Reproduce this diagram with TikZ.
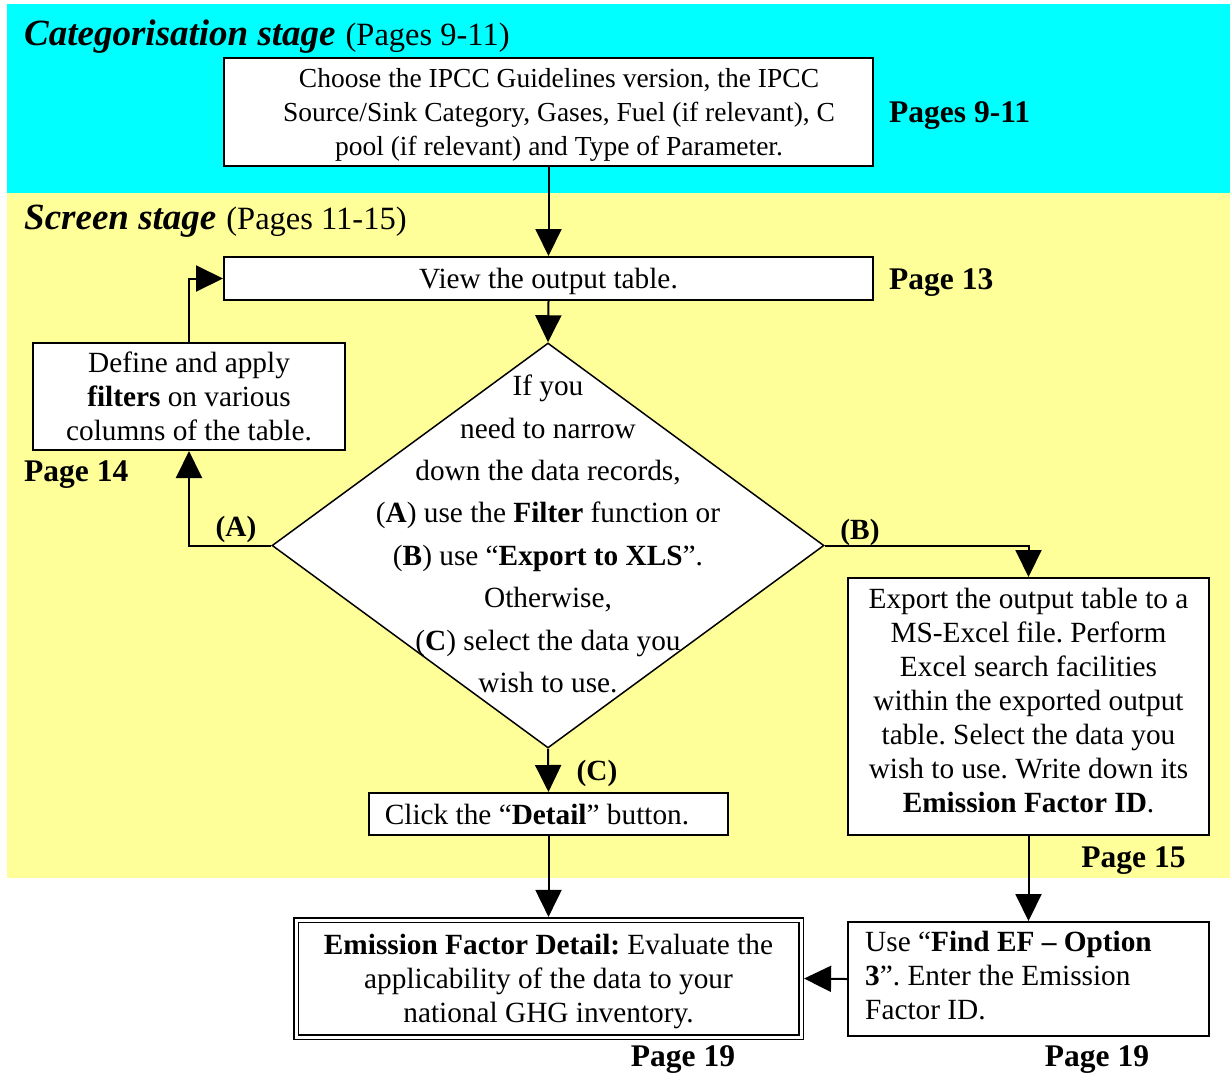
\documentclass[tikz,border=0pt]{standalone}
\usepackage{fontspec}
\setmainfont{Liberation Serif}
\usetikzlibrary{arrows.meta,shapes.geometric}
\definecolor{bgcyan}{RGB}{0,255,255}
\definecolor{bgyellow}{RGB}{255,255,153}
\frenchspacing
\begin{document}
\begin{tikzpicture}[x=1pt,y=-1pt,
  frame/.style={draw, line width=2pt, fill=white, inner sep=0pt},
  txt/.style={inner sep=0pt, align=center, font=\fontsize{29.3}{34}\selectfont},
  arr/.style={line width=2pt, -{Triangle[length=27pt,width=26pt]}},
  pg/.style={font=\fontsize{31.5}{34}\selectfont\bfseries, inner sep=0pt},
  lab/.style={font=\fontsize{29.3}{34}\selectfont\bfseries, inner sep=0pt}]
\useasboundingbox (0,0) rectangle (1230,1074);
\fill[white] (0,0) rectangle (1230,1074);
\fill[bgcyan] (7,4) rectangle (1230,193);
\fill[bgyellow] (7,193) rectangle (1230,878);

\node[anchor=base west, inner sep=0pt] (h1) at (24,45) {{\fontsize{37}{40}\selectfont\bfseries\itshape Categorisation stage}\hspace{10pt}{\fontsize{32.5}{34}\selectfont(Pages 9-11)}};
\node[anchor=base west, inner sep=0pt] (h2) at (24,229) {{\fontsize{37}{40}\selectfont\bfseries\itshape Screen stage}\hspace{10pt}{\fontsize{32.5}{34}\selectfont(Pages 11-15)}};

% boxes
\node[frame, minimum width=649pt, minimum height=108pt] (top) at (548.5,112) {};
\node[txt, font=\fontsize{27.5}{34}\selectfont] (toptext) at (559,115) {Choose the IPCC Guidelines version, the IPCC\\Source/Sink Category, Gases, Fuel (if relevant), C\\pool (if relevant) and Type of Parameter.};
\node[frame, minimum width=649pt, minimum height=43pt] (view) at (548.5,278.5) {};
\node[txt] (viewtext) at (548.5,281.5) {View the output table.};
\node[diamond, draw, line width=1.5pt, fill=white, minimum width=552pt, minimum height=405pt, inner sep=0pt] (dia) at (548,545.5) {};
\node[txt, font=\fontsize{29.3}{42.4}\selectfont] (diatext) at (548,534) {If you\\need to narrow\\down the data records,\\(\textbf{A}) use the \textbf{Filter} function or\\(\textbf{B}) use “\textbf{Export to XLS}”.\\Otherwise,\\(\textbf{C}) select the data you\\wish to use.};
\node[frame, minimum width=312pt, minimum height=107pt] (filter) at (189,396.5) {};
\node[txt] (filtertext) at (189,396.5) {Define and apply\\\textbf{filters} on various\\columns of the table.};
\node[frame, minimum width=361pt, minimum height=257pt] (export) at (1028.5,706.5) {};
\node[txt] (exporttext) at (1028.5,700.5) {Export the output table to a\\MS-Excel file. Perform\\Excel search facilities\\within the exported output\\table. Select the data you\\wish to use. Write down its\\\textbf{Emission Factor ID}.};
\node[frame, minimum width=359pt, minimum height=42pt] (detail) at (548.5,814) {};
\node[txt] (detailtext) at (537,815) {Click the “\textbf{Detail}” button.};
\node[frame, double, double distance=3pt, line width=1.6pt, minimum width=505pt, minimum height=117pt, outer sep=3.1pt] (ef) at (548.5,978.5) {};
\node[txt] (eftext) at (548.5,981.5) {\textbf{Emission Factor Detail:} Evaluate the\\applicability of the data to your\\national GHG inventory.};
\node[frame, minimum width=361pt, minimum height=114pt] (find) at (1028.5,979) {};
\node[txt, align=left, anchor=west] (findtext) at (865,976) {Use “\textbf{Find EF – Option}\\\textbf{3}”. Enter the Emission\\Factor ID.};

% connectors
\draw[arr] (top.south) -- (view.north);
\draw[arr] (view.south) -- (dia.north);
\draw[arr] (dia.west) -| (filter.south);
\draw[arr] (filter.north) |- (view.west);
\draw[arr] (dia.east) -| (export.north);
\draw[arr] (dia.south) -- (detail.north);
\draw[arr] (detail.south) -- (ef.north);
\draw[arr] (export.south) -- (find.north);
\draw[arr] (find.west) -- (ef.east);

% labels
\node[lab] (la) at (236,529) {(A)};
\node[lab] (lb) at (860,532) {(B)};
\node[lab] (lc) at (597,773) {(C)};

\node[pg, anchor=west] (p911) at (889,116) {Pages 9-11};
\node[pg, anchor=west] (p13) at (889,283) {Page 13};
\node[pg, anchor=west] (p14) at (24,475) {Page 14};
\node[pg] (p15) at (1133.5,861) {Page 15};
\node[pg] (p19a) at (683,1060) {Page 19};
\node[pg] (p19b) at (1097,1060) {Page 19};
\end{tikzpicture}
\end{document}
